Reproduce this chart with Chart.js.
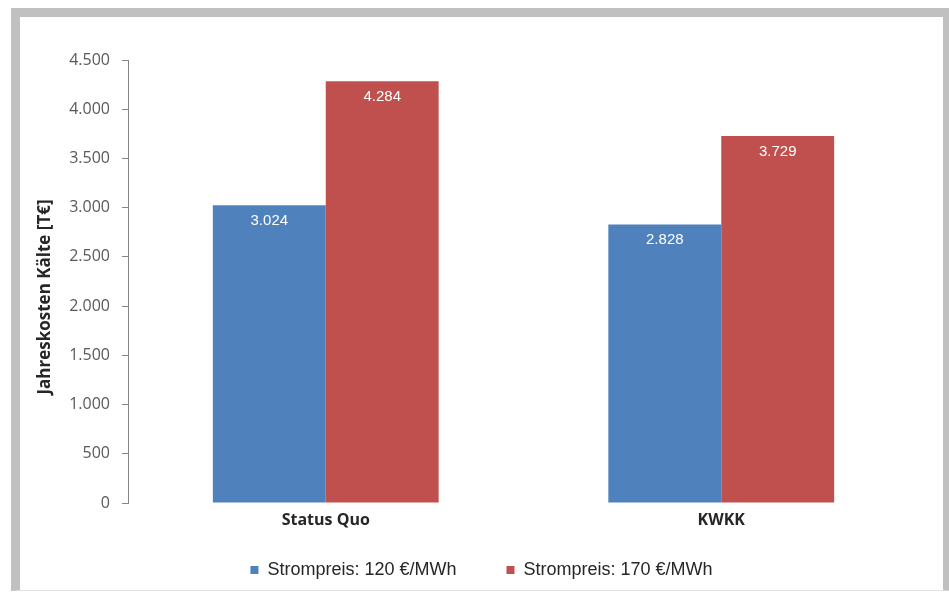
<!DOCTYPE html>
<html>
<head>
<meta charset="utf-8">
<script src="https://cdn.jsdelivr.net/npm/chart.js@4/dist/chart.umd.min.js"></script>
<style>
  body { margin: 0; width: 949px; height: 592px; overflow: hidden; background: #fff; }
  #frame {
    position: absolute; left: 11px; top: 8px;
    width: 923px; height: 573px;
    border: 9px solid #c0c0c0;
    border-bottom: 1px solid #e2e2e2;
  }
  canvas { display: block; }
</style>
</head>
<body>
<div id="frame"><canvas id="costChart" width="923" height="573"></canvas></div>
<script>
  // data
  const categories = ["Status Quo", "KWKK"];
  const seriesLabels = ["Strompreis: 120 €/MWh", "Strompreis: 170 €/MWh"];
  const price120Values = [3024, 2828];
  const price170Values = [4284, 3729];
  const yMax = 4500;
  const yStep = 500;

  const blue = "#4f81bd";
  const red = "#c0504d";

  // 4500 -> "4.500"
  function formatNumber(v) {
    return String(v).replace(/\B(?=(\d{3})+(?!\d))/g, ".");
  }

  /* ================= WERTE IN DEN BALKEN ================= */

  const barLabels = {
    id: "barLabels",
    afterDatasetsDraw(chart) {
      const ctx = chart.ctx;
      ctx.save();
      ctx.font = '15px "Liberation Sans", Arial, sans-serif';
      ctx.fillStyle = "#ffffff";
      ctx.textAlign = "center";
      ctx.textBaseline = "middle";
      chart.data.datasets.forEach((ds, i) => {
        chart.getDatasetMeta(i).data.forEach((bar, j) => {
          ctx.fillText(formatNumber(ds.data[j]), bar.x, bar.y + 15.5);
        });
      });
      ctx.restore();
    }
  };

  const ctx = document.getElementById("costChart").getContext("2d");

  new Chart(ctx, {
    type: "bar",
    data: {
      labels: categories,
      datasets: [
        { label: seriesLabels[0], data: price120Values, backgroundColor: blue },
        { label: seriesLabels[1], data: price170Values, backgroundColor: red }
      ]
    },
    options: {
      responsive: false,
      animation: false,
      layout: { padding: { top: 43, bottom: 1, left: 0, right: 0 } },
      datasets: {
        bar: { categoryPercentage: 0.571, barPercentage: 1.0 }
      },
      plugins: {
        tooltip: { enabled: false },
        legend: {
          position: "bottom",
          labels: {
            boxWidth: 8,
            boxHeight: 8,
            padding: 10,
            color: "#262626",
            font: { family: '"Liberation Sans", Arial, sans-serif', size: 18 },
            // mehr Abstand zwischen den Einträgen, ohne die Höhe zu ändern
            generateLabels(chart) {
              const items = Chart.defaults.plugins.legend.labels.generateLabels(chart);
              items.forEach((item, i) => {
                if (i < items.length - 1) item.text += "        ";
              });
              return items;
            }
          }
        }
      },
      scales: {
        x: {
          grid: { display: false, drawTicks: false },
          border: { display: false },
          ticks: {
            padding: 8,
            color: "#262626",
            font: { family: '"Open Sans", sans-serif', size: 16, weight: "bold" }
          },
          afterFit(scale) { scale.height = 48; }
        },
        y: {
          min: 0,
          max: yMax,
          grid: {
            drawOnChartArea: false,
            drawTicks: true,
            tickLength: 6,
            color: "#868686"
          },
          border: { display: true, color: "#868686", width: 1 },
          ticks: {
            stepSize: yStep,
            padding: 12,
            color: "#595959",
            font: { family: '"Open Sans", sans-serif', size: 16 },
            callback: v => formatNumber(v)
          },
          title: {
            display: true,
            // Leerzeichen am Ende rücken den Titel etwas nach unten
            text: "Jahreskosten Kälte [T€]       ",
            color: "#262626",
            padding: { top: 15, bottom: 0 },
            font: { family: '"Open Sans", sans-serif', size: 17, weight: "bold" }
          },
          afterFit(scale) { scale.width = 108; }
        },
        // leere rechte Achse, hält den Rand rechts frei
        yRight: {
          position: "right",
          display: true,
          grid: { display: false },
          border: { display: false },
          ticks: { display: false },
          afterFit(scale) { scale.width = 24; }
        }
      }
    },
    plugins: [barLabels]
  });
</script>
</body>
</html>
